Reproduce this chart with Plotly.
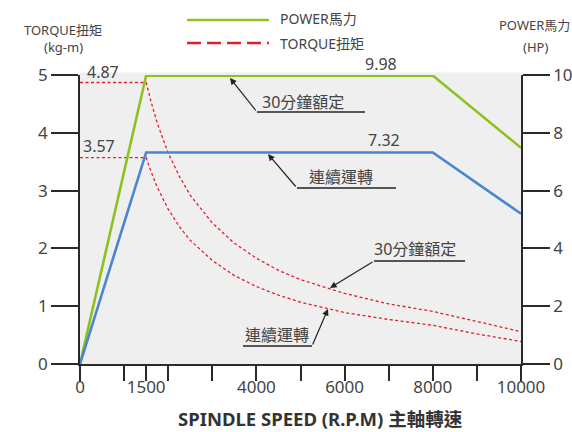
import plotly.graph_objects as go

# ---- data ----
rpm_power = [0, 1500, 8000, 10000]
power_30min = [0, 9.98, 9.98, 7.48]
power_cont = [0, 7.32, 7.32, 5.2]

rpm_torque = [0, 1500, 1600, 1750, 2000, 2250, 2500, 3000, 3500, 4000, 4500, 5000, 6000, 7000, 8000, 9000, 10000]
torque_30min = [4.87, 4.87, 4.57, 4.17, 3.65, 3.25, 2.92, 2.44, 2.09, 1.83, 1.62, 1.46, 1.22, 1.04, 0.91, 0.73, 0.56]
torque_cont = [3.57, 3.57, 3.35, 3.06, 2.68, 2.38, 2.14, 1.79, 1.53, 1.34, 1.19, 1.07, 0.89, 0.77, 0.67, 0.52, 0.39]

x_tickvals = [0, 1000, 1500, 2000, 3000, 4000, 5000, 6000, 7000, 8000, 9000, 10000]
x_ticktext = ["0", "", "1500", "", "", "4000", "", "6000", "", "8000", "", "10000"]

GREEN = "#8cc21f"
BLUE = "#4a86d0"
RED = "#e0202c"
TXT = "#444444"
AX = "#2a2a2a"
FONT = "Noto Sans, Noto Sans CJK TC, sans-serif"

W, H = 572, 432
L, R, T, B = 80, 51, 75, 68
PW, PH = W - L - R, H - T - B


def pxx(p):
    return (p - L) / PW


def pxy(p):
    return (H - B - p) / PH


fig = go.Figure()
fig.add_trace(go.Scatter(x=rpm_torque, y=torque_30min, mode="lines", yaxis="y",
                         line=dict(color=RED, width=1.3, dash="3px,2.5px"), name="TORQUE 30"))
fig.add_trace(go.Scatter(x=rpm_torque, y=torque_cont, mode="lines", yaxis="y",
                         line=dict(color=RED, width=1.3, dash="3px,2.5px"), name="TORQUE cont"))
fig.add_trace(go.Scatter(x=rpm_power, y=power_30min, mode="lines", yaxis="y2",
                         line=dict(color=GREEN, width=2.6), name="POWER 30"))
fig.add_trace(go.Scatter(x=rpm_power, y=power_cont, mode="lines", yaxis="y2",
                         line=dict(color=BLUE, width=2.6), name="POWER cont"))

axis_common = dict(showgrid=False, zeroline=False, showline=True, linecolor=AX, linewidth=1.5,
                   ticks="outside", tickcolor=AX, tickwidth=1.5,
                   tickfont=dict(family=FONT, size=17, color=TXT))

fig.update_layout(
    width=W, height=H,
    margin=dict(l=L, r=R, t=T, b=B, autoexpand=False),
    paper_bgcolor="white", plot_bgcolor="#efefef",
    showlegend=False,
    xaxis=dict(range=[0, 10000], tickvals=x_tickvals, ticktext=x_ticktext, ticklen=15,
               ticklabelstandoff=-8, **axis_common),
    yaxis=dict(range=[0, 5], tickvals=[0, 1, 2, 3, 4, 5], ticklen=27, **axis_common),
    yaxis2=dict(range=[0, 10], tickvals=[0, 2, 4, 6, 8, 10], ticklen=27, overlaying="y", side="right",
                **axis_common),
)

shapes = []
# gray band slightly above the top tick
shapes.append(dict(type="rect", xref="paper", yref="paper", x0=0, x1=1, y0=1, y1=pxy(72.5),
                   fillcolor="#efefef", line=dict(width=0), layer="below"))
# legend lines
shapes.append(dict(type="line", xref="paper", yref="paper", x0=pxx(187), x1=pxx(269), y0=pxy(20), y1=pxy(20),
                   line=dict(color=GREEN, width=2.6)))
shapes.append(dict(type="line", xref="paper", yref="paper", x0=pxx(187), x1=pxx(269), y0=pxy(43), y1=pxy(43),
                   line=dict(color=RED, width=2.6, dash="14px,6px")))
# underlines for callouts
for (x0, x1, y) in [(257, 365, 112), (297, 396, 188), (374, 465, 261), (243, 312, 346)]:
    shapes.append(dict(type="line", xref="paper", yref="paper", x0=pxx(x0), x1=pxx(x1), y0=pxy(y), y1=pxy(y),
                       line=dict(color="#222222", width=1.3)))
fig.update_layout(shapes=shapes)

ann = []


def text(x, y, s, size=16, anchor="center", bold=False, color=TXT):
    ann.append(dict(xref="paper", yref="paper", x=pxx(x), y=pxy(y), text=("<b>%s</b>" % s) if bold else s,
                    showarrow=False, xanchor=anchor, yanchor="middle",
                    font=dict(family=FONT, size=size, color=color)))


def arrow(tipx, tipy, tailx, taily):
    ann.append(dict(xref="paper", yref="paper", x=pxx(tipx), y=pxy(tipy), ax=tailx - tipx, ay=taily - tipy,
                    axref="pixel", ayref="pixel", text="", showarrow=True, arrowhead=2, arrowsize=1.1,
                    arrowwidth=1.2, arrowcolor="#222222"))


# legend text
text(278, 18, "POWER馬力", size=14, anchor="left")
text(278, 43, "TORQUE扭矩", size=14, anchor="left")
# axis titles
text(63, 30, "TORQUE扭矩", size=13)
text(63, 47, "(kg-m)", size=13)
text(497, 25, "POWER馬力", size=13, anchor="left")
text(535, 47, "(HP)", size=13)
# x axis title
text(320, 418, "SPINDLE SPEED (R.P.M) 主軸轉速", size=18.5, bold=True, color="#333333")
# value labels
text(103, 72, "4.87")
text(99, 146, "3.57")
text(381, 64, "9.98")
text(384, 140, "7.32")
# callouts
text(303, 102, "30分鐘額定")
text(341, 177, "連續運轉")
text(415, 249, "30分鐘額定")
text(277, 335, "連續運轉")
arrow(230, 78, 257, 112)
arrow(268, 154, 297, 188)
arrow(330, 288, 374, 261)
arrow(328, 309, 312, 346)

fig.update_layout(annotations=ann)
fig.write_html("out.html", config={"displayModeBar": False},
               post_script="document.body.style.margin='0';document.body.style.padding='0';")
